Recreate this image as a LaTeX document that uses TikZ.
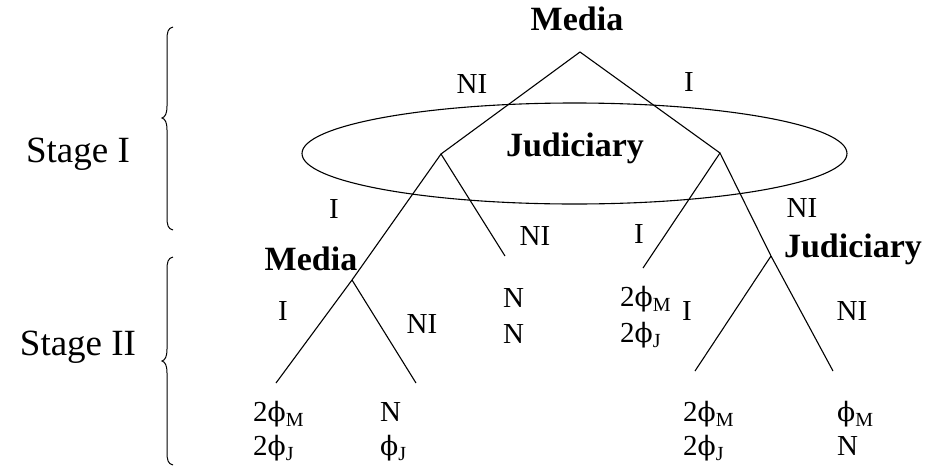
\documentclass[tikz,border=0pt]{standalone}
\usepackage{fontspec}
\setmainfont{Liberation Serif}
\newfontfamily\phifont[Scale=0.92]{DejaVu Serif}
\newcommand\lbfont{\fontsize{29}{29}\selectfont}
\newcommand\bdfont{\fontsize{34}{34}\selectfont\bfseries}
\newcommand\stfont{\fontsize{37}{37}\selectfont}
\newcommand\subx[1]{\raisebox{-5pt}{\fontsize{20}{20}\selectfont #1}}
\newcommand\phx{{\phifont ϕ}}
\begin{document}
\begin{tikzpicture}[x=1pt,y=-1pt,
  edge/.style={line width=1.1pt},
  lbl/.style={anchor=base,inner sep=0pt,font=\lbfont},
  pay/.style={anchor=base west,inner sep=0pt,font=\lbfont},
  who/.style={anchor=base,inner sep=0pt,font=\bdfont},
  stagelbl/.style={anchor=base,inner sep=0pt,font=\stfont}]
\useasboundingbox (0,0) rectangle (927,469);
% tree vertices
\coordinate (R) at (580,52);
\coordinate (JL) at (441,154);
\coordinate (JR) at (720,153);
\coordinate (ML) at (352,280);
\coordinate (LL) at (276,383);
\coordinate (LR) at (416,383);
\coordinate (JLR) at (505,256);
\coordinate (JRL) at (643,268);
\coordinate (J2) at (771,256);
\coordinate (J2L) at (695,371);
\coordinate (J2R) at (833,371);
% information set
\draw[edge] (574.5,153.5) ellipse [x radius=272.5pt, y radius=50.5pt];
% edges
\draw[edge] (JL) -- (R) -- (JR);
\draw[edge] (LL) -- (ML) -- (JL) -- (JLR);
\draw[edge] (ML) -- (LR);
\draw[edge] (JRL) -- (JR) -- (J2) -- (J2R);
\draw[edge] (J2) -- (J2L);
% player labels
\node[who] (mtop) at (577,30) {Media};
\node[who] (jmid) at (575,156) {Judiciary};
\node[who] (mlow) at (311,270) {Media};
\node[who] (jlow) at (853,257) {Judiciary};
% action labels
\node[lbl] (a1) at (472,93) {NI};
\node[lbl] (a2) at (689,91) {I};
\node[lbl] (a3) at (334,218) {I};
\node[lbl] (a4) at (535,245) {NI};
\node[lbl] (a5) at (639,243) {I};
\node[lbl] (a6) at (802,217) {NI};
\node[lbl] (a7) at (283,320) {I};
\node[lbl] (a8) at (422,333) {NI};
\node[lbl] (a9) at (687,320) {I};
\node[lbl] (a10) at (852,320) {NI};
% payoffs
\node[pay] (p1a) at (503,307) {N};
\node[pay] (p1b) at (503,343) {N};
\node[pay] (p2a) at (620,306) {2\phx\subx{M}};
\node[pay] (p2b) at (620,342) {2\phx\subx{J}};
\node[pay] (p3a) at (253,421) {2\phx\subx{M}};
\node[pay] (p3b) at (253,455) {2\phx\subx{J}};
\node[pay] (p4a) at (380,421) {N};
\node[pay] (p4b) at (380,455) {\phx\subx{J}};
\node[pay] (p5a) at (683,421) {2\phx\subx{M}};
\node[pay] (p5b) at (683,455) {2\phx\subx{J}};
\node[pay] (p6a) at (837,421) {\phx\subx{M}};
\node[pay] (p6b) at (837,455) {N};
% stages
\node[stagelbl] (s1) at (78,162) {Stage I};
\node[stagelbl] (s2) at (78,355) {Stage II};
% braces
\draw[line width=1pt] (173,27) .. controls (168,28) and (167,32) .. (167,40)
  -- (167,106) .. controls (167,114) and (165,117) .. (162,118)
  .. controls (165,119) and (167,122) .. (167,130)
  -- (167,217) .. controls (167,225) and (168,229) .. (173,230);
\draw[line width=1pt] (173,257) .. controls (168,258) and (167,262) .. (167,270)
  -- (167,349) .. controls (167,357) and (165,360) .. (162,361)
  .. controls (165,362) and (167,365) .. (167,373)
  -- (167,452) .. controls (167,460) and (168,464) .. (173,465);
\end{tikzpicture}
\end{document}
